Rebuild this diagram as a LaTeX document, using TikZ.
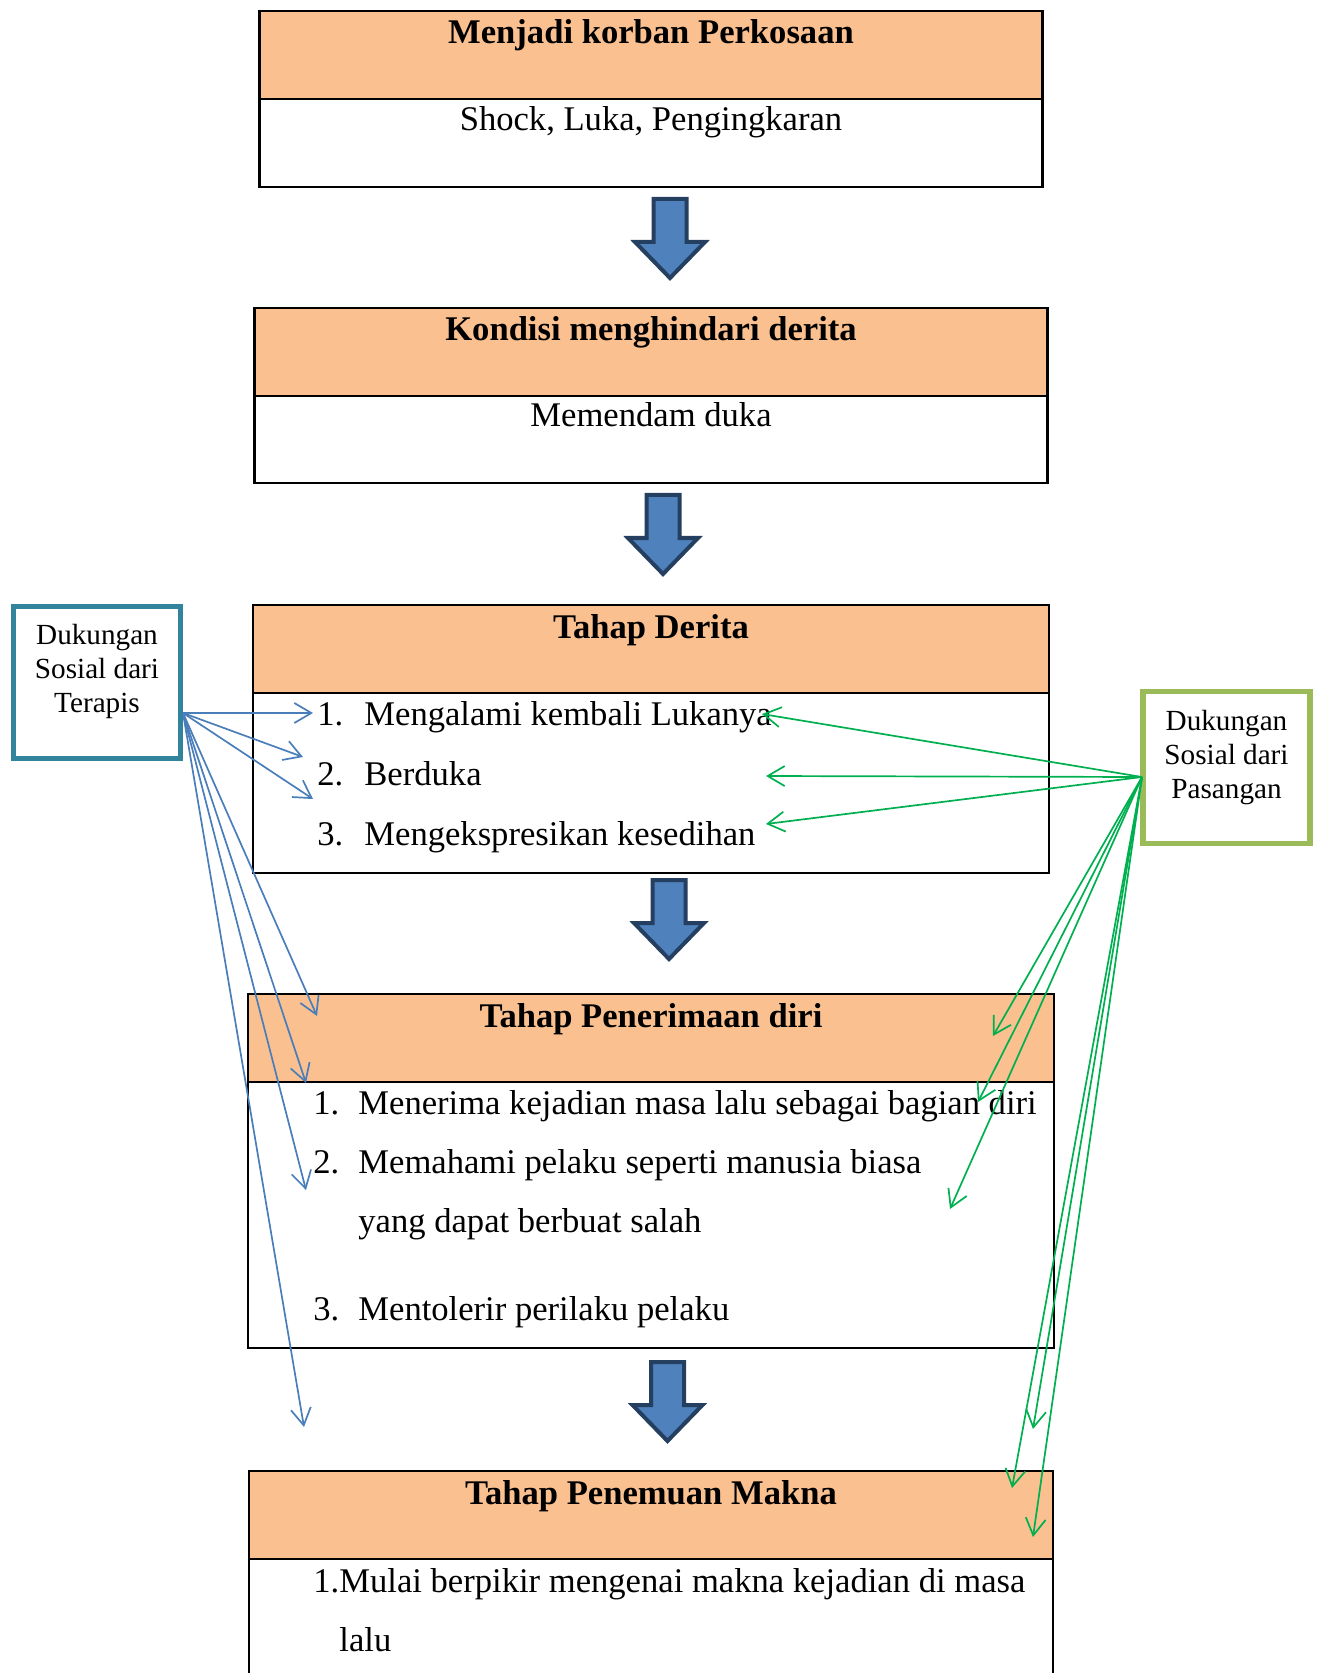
\documentclass[tikz,border=0pt]{standalone}
\usepackage{fontspec}
\setmainfont{Liberation Serif}
\usepackage{tikz}
\usetikzlibrary{positioning,arrows.meta}
\definecolor{peach}{HTML}{FAC090}
\definecolor{blockfill}{HTML}{4F81BD}
\definecolor{blockline}{HTML}{243F60}
\definecolor{terapis}{HTML}{31849B}
\definecolor{pasangan}{HTML}{9BBB59}
\definecolor{tline}{HTML}{4A7EBB}
\definecolor{pline}{HTML}{00B050}
\newcommand{\mainsize}{\fontsize{17.3}{20}\selectfont}
\newcommand{\sidesize}{\fontsize{14.6}{17}\selectfont}
\newcommand{\downblock}[1]{\draw[bigarrow] (#1) ++(-16.5,0) -- ++(33,0) -- ++(0,43) -- ++(18.5,0) -- ++(-35,36) -- ++(-35,-36) -- ++(18.5,0) -- cycle;}

\begin{document}
\begin{tikzpicture}[x=0.5pt, y=-0.5pt,
    head/.style={draw, line width=1.2pt, outer sep=0pt, fill=peach, minimum height=44pt, inner ysep=0pt, text height=16.5pt, text depth=27.5pt, font=\mainsize\bfseries},
    body/.style={draw, line width=1.2pt, outer sep=0pt, minimum height=44pt, inner ysep=0pt, text height=15.5pt, text depth=28pt, font=\mainsize},
    item/.style={anchor=base west, inner sep=0pt, font=\mainsize},
    sidebox/.style={draw, line width=2.6pt, minimum width=83.5pt, minimum height=76pt},
    sidetext/.style={inner sep=0pt, align=center, font=\sidesize},
    bigarrow/.style={draw=blockline, fill=blockfill, line width=2pt, line join=miter},
    tarrow/.style={-{Straight Barb[length=8.5pt, width=10pt]}, draw=tline, line width=0.85pt},
    parrow/.style={-{Straight Barb[length=8.5pt, width=10pt]}, draw=pline, line width=0.85pt}
]
    \useasboundingbox (0,0) rectangle (1319,1673);

    % Stages
    \node[head, minimum width=391.5pt] (korban) at (651,55) {Menjadi korban Perkosaan};
    \node[body, minimum width=391.5pt, below=0pt of korban] (korbanisi) {Shock, Luka, Pengingkaran};

    \node[head, minimum width=396.5pt, below=60.5pt of korbanisi] (hindar) {Kondisi menghindari derita};
    \node[body, minimum width=396.5pt, minimum height=43pt, below=0pt of hindar] (hindarisi) {Memendam duka};

    \node[head, minimum width=398pt, below=61pt of hindarisi] (derita) {Tahap Derita};
    \node[body, minimum width=398pt, minimum height=90pt, below=0pt of derita] (deritaisi) {};

    \node[head, minimum width=403pt, below=60.5pt of deritaisi] (terima) {Tahap Penerimaan diri};
    \node[body, minimum width=403pt, minimum height=133pt, below=0pt of terima] (terimaisi) {};

    \node[head, minimum width=402pt, below=61.5pt of terimaisi] (makna) {Tahap Penemuan Makna};
    \node[body, minimum width=402pt, minimum height=75pt, below=0pt of makna] (maknaisi) {};

    % Items
    \node[item] (der1) at (317,725) {\makebox[23.5pt][l]{1.}Mengalami kembali Lukanya};
    \node[item] (der2) at (317,785) {\makebox[23.5pt][l]{2.}Berduka};
    \node[item] (der3) at (317,845) {\makebox[23.5pt][l]{3.}Mengekspresikan kesedihan};

    \node[item] (ter1) at (313,1114) {\makebox[22.5pt][l]{1.}Menerima kejadian masa lalu sebagai bagian diri};
    \node[item] (ter2) at (313,1173) {\makebox[22.5pt][l]{2.}Memahami pelaku seperti manusia biasa};
    \node[item] (ter2b) at (358,1232) {yang dapat berbuat salah};
    \node[item] (ter3) at (313,1320) {\makebox[22.5pt][l]{3.}Mentolerir perilaku pelaku};

    \node[item] (mak1) at (313,1592) {1.Mulai berpikir mengenai makna kejadian di masa};
    \node[item] (mak1b) at (339,1651) {lalu};

    % Block arrows
    \coordinate (a1) at (670,199);
    \coordinate (a2) at (663,495);
    \coordinate (a3) at (669,880);
    \coordinate (a4) at (667.5,1362);
    \downblock{a1}
    \downblock{a2}
    \downblock{a3}
    \downblock{a4}

    % Support boxes
    \node[sidebox, draw=terapis] (tbox) at (97,682.5) {};
    \node[sidetext, below=10pt of tbox.north] (ttext) {Dukungan\\Sosial dari\\Terapis};
    \node[sidebox, draw=pasangan] (pbox) at (1226.5,767.5) {};
    \node[sidetext, below=10.5pt of pbox.north] (ptext) {Dukungan\\Sosial dari\\Pasangan};

    % Arrow ends
    \coordinate (tsrc) at (183,713);
    \coordinate (t1) at (313,713);
    \coordinate (t2) at (303,757);
    \coordinate (t3) at (313,799);
    \coordinate (t4) at (317,1016);
    \coordinate (t5) at (306,1083);
    \coordinate (t6) at (306,1190);
    \coordinate (t7) at (304,1427);
    \coordinate (psrc) at (1142,777);
    \coordinate (p1) at (762,714);
    \coordinate (p2) at (766,776);
    \coordinate (p3) at (766,824);
    \coordinate (p4) at (993,1036);
    \coordinate (p5) at (978,1102);
    \coordinate (p6) at (950,1209);
    \coordinate (p7) at (1033,1429);
    \coordinate (p8) at (1012,1488);
    \coordinate (p9) at (1033,1537);

    % Support arrows
    \draw[tarrow] (tsrc) -- (t1);
    \draw[tarrow] (tsrc) -- (t2);
    \draw[tarrow] (tsrc) -- (t3);
    \draw[tarrow] (tsrc) -- (t4);
    \draw[tarrow] (tsrc) -- (t5);
    \draw[tarrow] (tsrc) -- (t6);
    \draw[tarrow] (tsrc) -- (t7);
    \draw[parrow] (psrc) -- (p1);
    \draw[parrow] (psrc) -- (p2);
    \draw[parrow] (psrc) -- (p3);
    \draw[parrow] (psrc) -- (p4);
    \draw[parrow] (psrc) -- (p5);
    \draw[parrow] (psrc) -- (p6);
    \draw[parrow] (psrc) -- (p7);
    \draw[parrow] (psrc) -- (p8);
    \draw[parrow] (psrc) -- (p9);
\end{tikzpicture}
\end{document}
